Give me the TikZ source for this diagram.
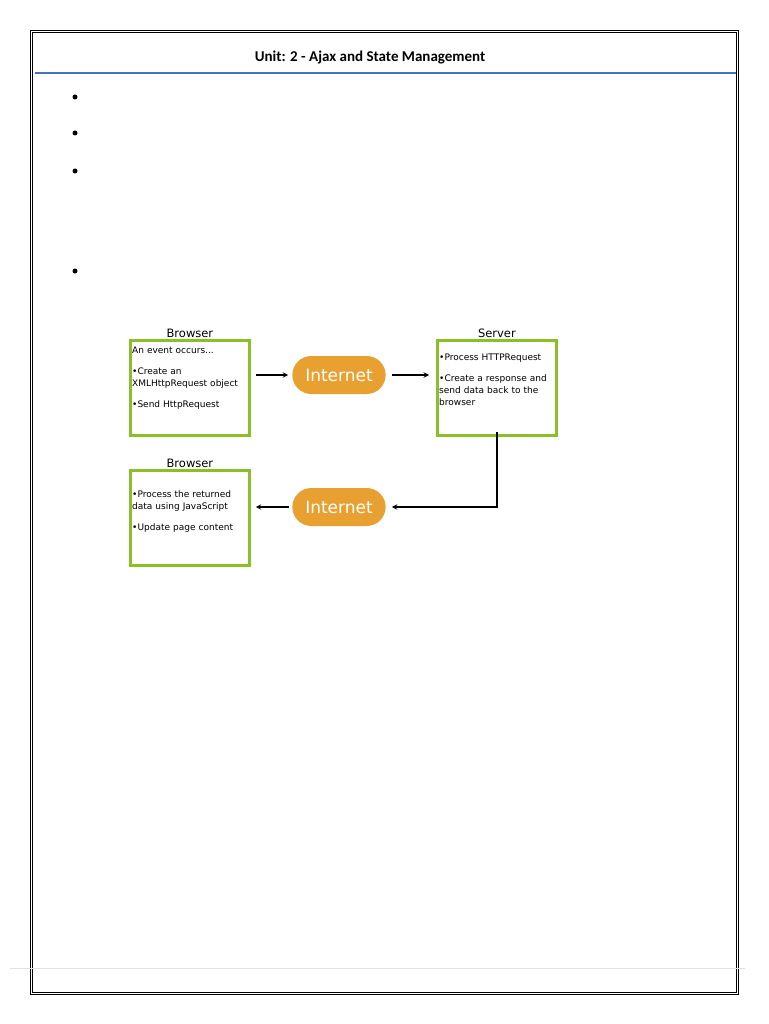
\documentclass[tikz,border=0pt]{standalone}
\usepackage{fontspec}
\setmainfont{DejaVu Sans}
\newfontfamily\headfont{Carlito}
\usetikzlibrary{positioning,shapes.misc}
\definecolor{boxgreen}{RGB}{140,190,40}
\definecolor{netorange}{RGB}{232,160,48}
\definecolor{ruleblue}{RGB}{68,114,196}
\tikzset{
  step box/.style={draw=boxgreen,line width=2.8pt,minimum width=119pt,minimum height=95pt},
  step text/.style={anchor=north west,inner sep=0pt,align=left,text width=117pt,
    font=\fontsize{9}{12}\selectfont},
  net pill/.style={rounded rectangle,fill=netorange,text=white,minimum width=100pt,
    minimum height=38pt,font=\fontsize{17}{17}\selectfont},
  box title/.style={font=\fontsize{11.5}{11.5}\selectfont,inner sep=1.5pt},
  flow/.style={->,>=stealth,line width=1.4pt}
}
\begin{document}
\begin{tikzpicture}[x=1pt,y=-1pt]
\useasboundingbox (0,0) rectangle (768,1024);
% page frame
\draw[line width=0.6pt] (30,30) rectangle (738,994);
\draw[line width=0.6pt] (32,32) rectangle (736,992);
\node[font=\headfont\bfseries\fontsize{15}{15}\selectfont] (head) at (370,58) {Unit: 2 - Ajax and State Management};
\draw[ruleblue,line width=2.5pt] (35,73) -- (736,73);
\draw[black!12,line width=0.6pt] (10,968) -- (745,968);
\foreach \y in {97,133,171,271}
  \fill (75,\y) circle (2.5pt);
% boxes
\node[step box,anchor=north west] (br1) at (129,339) {};
\node[step box,anchor=north west] (srv) at (436,339) {};
\node[step box,anchor=north west] (br2) at (129,469) {};
\node[step text] (br1txt) at (132,347) {An event occurs...\\[9pt]
  •Create an\\ XMLHttpRequest object\\[9pt] •Send HttpRequest};
\node[step text] (srvtxt) at (439,354) {•Process HTTPRequest\\[9pt]
  •Create a response and send data back to the browser};
\node[step text] (br2txt) at (132,490) {•Process the returned data using JavaScript\\[9pt]
  •Update page content};
\node[box title,above=0pt of br1] (t1) {Browser};
\node[box title,above=0pt of srv] (t2) {Server};
\node[box title,above=0pt of br2] (t3) {Browser};
\node[net pill] (net1) at (339,375) {Internet};
\node[net pill] (net2) at (339,507) {Internet};
% connectors
\draw[flow] ([xshift=5pt]br1.east|-net1) -- ([xshift=-4pt]net1.west);
\draw[flow] ([xshift=6pt]net1.east) -- ([xshift=-7pt]srv.west|-net1);
\draw[flow] ([yshift=5pt]srv.south) |- ([xshift=6pt]net2.east);
\draw[flow] ([xshift=-3pt]net2.west) -- ([xshift=5pt]br2.east|-net2);
\end{tikzpicture}
\end{document}
